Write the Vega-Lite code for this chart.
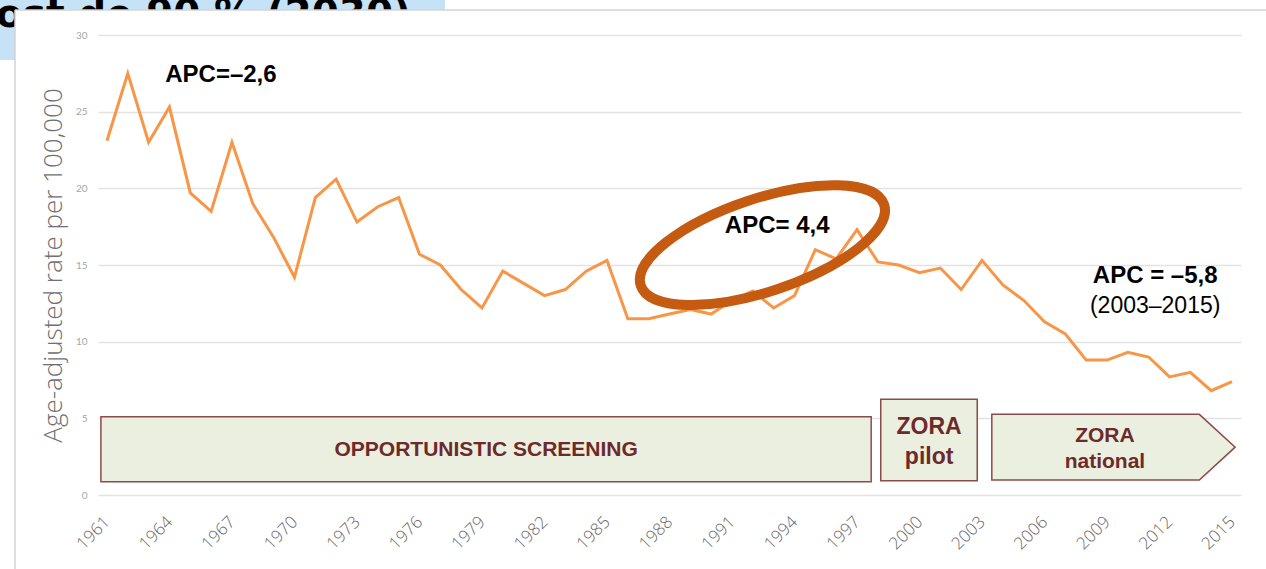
{
  "$schema": "https://vega.github.io/schema/vega-lite/v6.json",
  "width": 1143,
  "height": 460,
  "autosize": "none",
  "padding": {"left": 98, "top": 35, "right": 25, "bottom": 74},
  "background": "white",
  "config": {"view": {"stroke": null}},
  "datasets": {
    "series": [
      {"year": 1961, "rate": 23.1}, {"year": 1962, "rate": 27.5}, {"year": 1963, "rate": 23.0},
      {"year": 1964, "rate": 25.3}, {"year": 1965, "rate": 19.7}, {"year": 1966, "rate": 18.5},
      {"year": 1967, "rate": 23.0}, {"year": 1968, "rate": 19.0}, {"year": 1969, "rate": 16.8},
      {"year": 1970, "rate": 14.2}, {"year": 1971, "rate": 19.4}, {"year": 1972, "rate": 20.6},
      {"year": 1973, "rate": 17.8}, {"year": 1974, "rate": 18.8}, {"year": 1975, "rate": 19.4},
      {"year": 1976, "rate": 15.7}, {"year": 1977, "rate": 15.0}, {"year": 1978, "rate": 13.4},
      {"year": 1979, "rate": 12.2}, {"year": 1980, "rate": 14.6}, {"year": 1981, "rate": 13.8},
      {"year": 1982, "rate": 13.0}, {"year": 1983, "rate": 13.4}, {"year": 1984, "rate": 14.6},
      {"year": 1985, "rate": 15.3}, {"year": 1986, "rate": 11.5}, {"year": 1987, "rate": 11.5},
      {"year": 1988, "rate": 11.8}, {"year": 1989, "rate": 12.1}, {"year": 1990, "rate": 11.8},
      {"year": 1991, "rate": 12.7}, {"year": 1992, "rate": 13.3}, {"year": 1993, "rate": 12.2},
      {"year": 1994, "rate": 13.0}, {"year": 1995, "rate": 16.0}, {"year": 1996, "rate": 15.4},
      {"year": 1997, "rate": 17.3}, {"year": 1998, "rate": 15.2}, {"year": 1999, "rate": 15.0},
      {"year": 2000, "rate": 14.5}, {"year": 2001, "rate": 14.8}, {"year": 2002, "rate": 13.4},
      {"year": 2003, "rate": 15.3}, {"year": 2004, "rate": 13.7}, {"year": 2005, "rate": 12.7},
      {"year": 2006, "rate": 11.3}, {"year": 2007, "rate": 10.5}, {"year": 2008, "rate": 8.8},
      {"year": 2009, "rate": 8.8}, {"year": 2010, "rate": 9.3}, {"year": 2011, "rate": 9.0},
      {"year": 2012, "rate": 7.7}, {"year": 2013, "rate": 8.0}, {"year": 2014, "rate": 6.8},
      {"year": 2015, "rate": 7.4}
    ],
    "phases": [
      {"phase": "OPPORTUNISTIC SCREENING", "start": 1960.71, "end": 1997.68, "low": 0.87, "high": 5.1, "mid": 1979.2, "labelRate": 2.94},
      {"phase": "ZORA\npilot", "start": 1998.14, "end": 2002.77, "low": 0.93, "high": 6.24, "mid": 2000.46, "labelRate": 4.43}
    ],
    "national": [
      {"year": 2003.47, "low": 0.98, "high": 5.26},
      {"year": 2013.43, "low": 0.98, "high": 5.26},
      {"year": 2015.15, "low": 3.12, "high": 3.12}
    ],
    "nationalLabel": [
      {"phase": "ZORA\nnational", "mid": 2008.9, "labelRate": 3.85}
    ],
    "apc": [
      {"label": "APC=–2,6", "year": 1966.47, "rate": 27.4},
      {"label": "APC= 4,4", "year": 1993.17, "rate": 17.55},
      {"label": "APC = –5,8", "year": 2011.31, "rate": 14.29}
    ],
    "apcNote": [
      {"label": "(2003–2015)", "year": 2011.31, "rate": 12.33}
    ],
    "highlight": [
      {"year": 1992.46, "rate": 16.3}
    ],
    "one": [{}]
  },
  "layer": [
    {
      "data": {"name": "one"},
      "mark": {"type": "rect", "fill": "#c6e2f7", "stroke": null, "clip": false},
      "encoding": {
        "x": {"datum": 1955.866, "type": "quantitative", "scale": {"domain": [1960.57, 2015.43], "nice": false, "zero": false}, "title": null},
        "x2": {"datum": 1977.225},
        "y": {"datum": 32.283, "type": "quantitative", "scale": {"domain": [0, 30], "nice": false}, "title": "Age-adjusted rate per 100,000"},
        "y2": {"datum": 31.63}
      }
    },
    {
      "data": {"name": "one"},
      "mark": {"type": "rect", "fill": "#c6e2f7", "stroke": null, "clip": false},
      "encoding": {
        "x": {"datum": 1955.866, "type": "quantitative", "scale": {"domain": [1960.57, 2015.43], "nice": false, "zero": false}, "title": null},
        "x2": {"datum": 1956.586},
        "y": {"datum": 32.283, "type": "quantitative", "scale": {"domain": [0, 30], "nice": false}, "title": "Age-adjusted rate per 100,000"},
        "y2": {"datum": 28.37}
      }
    },
    {
      "data": {"name": "one"},
      "mark": {"type": "text", "text": "ost de 90 % (2030)", "font": "DejaVu Sans", "fontWeight": "bold", "fontSize": 39, "align": "left", "baseline": "alphabetic", "color": "#000000", "clip": false},
      "encoding": {
        "x": {"datum": 1955.674, "type": "quantitative", "scale": {"domain": [1960.57, 2015.43], "nice": false, "zero": false}, "title": null},
        "y": {"datum": 30.522, "type": "quantitative", "scale": {"domain": [0, 30], "nice": false}, "title": "Age-adjusted rate per 100,000"}
      }
    },
    {
      "data": {"name": "one"},
      "mark": {"type": "rect", "fill": "#ffffff", "stroke": null, "clip": false},
      "encoding": {
        "x": {"datum": 1956.586, "type": "quantitative", "scale": {"domain": [1960.57, 2015.43], "nice": false, "zero": false}, "title": null},
        "x2": {"datum": 2016.7},
        "y": {"datum": 31.63, "type": "quantitative", "scale": {"domain": [0, 30], "nice": false}, "title": "Age-adjusted rate per 100,000"},
        "y2": {"datum": 30.36}
      }
    },
    {
      "data": {"name": "one"},
      "mark": {"type": "rect", "fill": "#ffffff", "stroke": null, "clip": false},
      "encoding": {
        "x": {"datum": 1963.066, "type": "quantitative", "scale": {"domain": [1960.57, 2015.43], "nice": false, "zero": false}, "title": null},
        "x2": {"datum": 1977.225},
        "y": {"datum": 31.63, "type": "quantitative", "scale": {"domain": [0, 30], "nice": false}, "title": "Age-adjusted rate per 100,000"},
        "y2": {"datum": 30.1}
      }
    },
    {
      "data": {"name": "one"},
      "mark": {"type": "rule", "color": "#d4d4d4", "strokeWidth": 1.5, "clip": false},
      "encoding": {
        "x": {"datum": 1956.586, "type": "quantitative", "scale": {"domain": [1960.57, 2015.43], "nice": false, "zero": false}, "title": null},
        "x2": {"datum": 2016.7},
        "y": {"datum": 31.63, "type": "quantitative", "scale": {"domain": [0, 30], "nice": false}, "title": "Age-adjusted rate per 100,000"}
      }
    },
    {
      "data": {"name": "one"},
      "mark": {"type": "rule", "color": "#d4d4d4", "strokeWidth": 1.5, "clip": false},
      "encoding": {
        "x": {"datum": 1956.586, "type": "quantitative", "scale": {"domain": [1960.57, 2015.43], "nice": false, "zero": false}, "title": null},
        "y": {"datum": 31.63, "type": "quantitative", "scale": {"domain": [0, 30], "nice": false}, "title": "Age-adjusted rate per 100,000"},
        "y2": {"datum": -5}
      }
    },
    {
      "data": {"name": "phases"},
      "mark": {"type": "rect", "fill": "#ebefdf", "stroke": "#8c4b4b", "strokeWidth": 1.5, "clip": false},
      "encoding": {
        "x": {"field": "start", "type": "quantitative", "scale": {"domain": [1960.57, 2015.43], "nice": false, "zero": false}, "title": null},
        "x2": {"field": "end"},
        "y": {"field": "high", "type": "quantitative", "scale": {"domain": [0, 30], "nice": false}, "title": "Age-adjusted rate per 100,000"},
        "y2": {"field": "low"}
      }
    },
    {
      "data": {"name": "national"},
      "mark": {"type": "area", "fill": "#ebefdf", "stroke": "#8c4b4b", "strokeWidth": 1.5, "opacity": 1, "fillOpacity": 1, "clip": false},
      "encoding": {
        "x": {"field": "year", "type": "quantitative", "scale": {"domain": [1960.57, 2015.43], "nice": false, "zero": false}, "title": null},
        "y": {"field": "high", "type": "quantitative", "scale": {"domain": [0, 30], "nice": false}, "title": "Age-adjusted rate per 100,000"},
        "y2": {"field": "low"}
      }
    },
    {
      "data": {"name": "phases"},
      "mark": {"type": "text", "font": "Liberation Sans", "fontWeight": "bold", "color": "#6e2a2a", "align": "center", "baseline": "middle", "lineBreak": "\n", "lineHeight": 30},
      "encoding": {
        "x": {"field": "mid", "type": "quantitative", "scale": {"domain": [1960.57, 2015.43], "nice": false, "zero": false}, "title": null},
        "y": {"field": "labelRate", "type": "quantitative", "scale": {"domain": [0, 30], "nice": false}, "title": "Age-adjusted rate per 100,000"},
        "text": {"field": "phase"},
        "size": {"condition": {"test": "datum.phase !== 'OPPORTUNISTIC SCREENING'", "value": 23}, "value": 21}
      }
    },
    {
      "data": {"name": "nationalLabel"},
      "mark": {"type": "text", "font": "Liberation Sans", "fontWeight": "bold", "fontSize": 21, "color": "#6e2a2a", "align": "center", "baseline": "middle", "lineBreak": "\n", "lineHeight": 26},
      "encoding": {
        "x": {"field": "mid", "type": "quantitative", "scale": {"domain": [1960.57, 2015.43], "nice": false, "zero": false}, "title": null},
        "y": {"field": "labelRate", "type": "quantitative", "scale": {"domain": [0, 30], "nice": false}, "title": "Age-adjusted rate per 100,000"},
        "text": {"field": "phase"}
      }
    },
    {
      "data": {"name": "series"},
      "mark": {"type": "line", "color": "#f79646", "strokeWidth": 3, "strokeJoin": "miter"},
      "encoding": {
        "x": {
          "field": "year", "type": "quantitative",
          "scale": {"domain": [1960.57, 2015.43], "nice": false, "zero": false},
          "title": null,
          "axis": {
            "values": [1961, 1964, 1967, 1970, 1973, 1976, 1979, 1982, 1985, 1988, 1991, 1994, 1997, 2000, 2003, 2006, 2009, 2012, 2015],
            "format": "d", "grid": false, "domain": false, "ticks": false,
            "labelAngle": -45, "labelAlign": "right", "labelBaseline": "middle",
            "labelPadding": 24, "labelDx": -7, "labelFontSize": 17, "labelFont": "Open Sans", "labelFontWeight": 300, "labelColor": "#666666",
            "labelOverlap": false, "labelFlush": false, "labelBound": false
          }
        },
        "y": {
          "field": "rate", "type": "quantitative",
          "scale": {"domain": [0, 30], "nice": false},
          "title": "Age-adjusted rate per 100,000",
          "axis": {
            "values": [0, 5, 10, 15, 20, 25, 30],
            "grid": true, "gridColor": "#e2e2e2", "gridWidth": 1.5,
            "domain": false, "ticks": false,
            "labelFontSize": 10, "labelFont": "Lato", "labelColor": "#a6a6a6", "labelPadding": 11,
            "titleFontSize": 26, "titleFont": "Open Sans", "titleFontWeight": 300, "titleColor": "#707070", "titlePadding": 9
          }
        }
      }
    },
    {
      "data": {"name": "highlight"},
      "mark": {"type": "point", "shape": "M -0.949 0.316 A 1 0.363 -18.4 0 1 0.949 -0.316 A 1 0.363 -18.4 0 1 -0.949 0.316 Z", "size": 65741, "filled": false, "stroke": "#c55a11", "strokeWidth": 10, "opacity": 1},
      "encoding": {
        "x": {"field": "year", "type": "quantitative", "scale": {"domain": [1960.57, 2015.43], "nice": false, "zero": false}, "title": null},
        "y": {"field": "rate", "type": "quantitative", "scale": {"domain": [0, 30], "nice": false}, "title": "Age-adjusted rate per 100,000"}
      }
    },
    {
      "data": {"name": "apc"},
      "mark": {"type": "text", "font": "Liberation Sans", "fontWeight": "bold", "fontSize": 24, "color": "#000000", "align": "center", "baseline": "middle"},
      "encoding": {
        "x": {"field": "year", "type": "quantitative", "scale": {"domain": [1960.57, 2015.43], "nice": false, "zero": false}, "title": null},
        "y": {"field": "rate", "type": "quantitative", "scale": {"domain": [0, 30], "nice": false}, "title": "Age-adjusted rate per 100,000"},
        "text": {"field": "label"}
      }
    },
    {
      "data": {"name": "apcNote"},
      "mark": {"type": "text", "font": "Liberation Sans", "fontSize": 23, "color": "#000000", "align": "center", "baseline": "middle"},
      "encoding": {
        "x": {"field": "year", "type": "quantitative", "scale": {"domain": [1960.57, 2015.43], "nice": false, "zero": false}, "title": null},
        "y": {"field": "rate", "type": "quantitative", "scale": {"domain": [0, 30], "nice": false}, "title": "Age-adjusted rate per 100,000"},
        "text": {"field": "label"}
      }
    }
  ]
}
